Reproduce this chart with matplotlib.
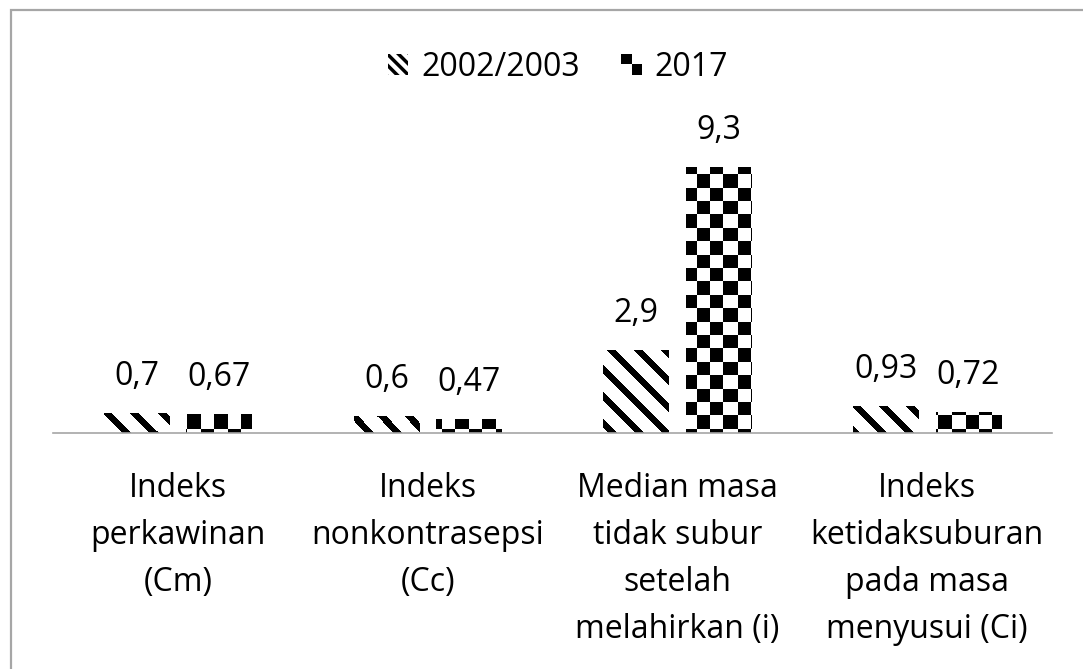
import numpy as np
import matplotlib
matplotlib.use("Agg")
import matplotlib.pyplot as plt
from matplotlib.patches import Rectangle, Patch
from matplotlib.legend_handler import HandlerBase

# --------------------------
# DATA
# --------------------------
categories = [
    "Indeks\nperkawinan\n(Cm)",
    "Indeks\nnonkontrasepsi\n(Cc)",
    "Median masa\ntidak subur\nsetelah\nmelahirkan (i)",
    "Indeks\nketidaksuburan\npada masa\nmenyusui (Ci)",
]
series_names = ["2002/2003", "2017"]
vals_2002 = [0.7, 0.6, 2.9, 0.93]
vals_2017 = [0.67, 0.47, 9.3, 0.72]

# --------------------------
# STYLE
# --------------------------
plt.rcParams['font.family'] = ['Open Sans', 'DejaVu Sans']
plt.rcParams['hatch.linewidth'] = 2.5
FS = 23
TXT = '#000000'
W, H = 1083, 669
fig = plt.figure(figsize=(W / 100, H / 100), dpi=100)

ax_left, ax_right = 53, 1052
ax_base = 432.7
px_per_unit = 28.55
ymax = 10
ax_h = ymax * px_per_unit
ax = fig.add_axes([ax_left / W, (H - ax_base) / H, (ax_right - ax_left) / W, ax_h / H])

x = np.arange(len(categories))
bw = 0.262
off = 0.165

bars1 = ax.bar(x - off, vals_2002, bw, color='white', linewidth=0)
bars2 = ax.bar(x + off, vals_2017, bw, color='white', linewidth=0)

# --------------------------
# Pattern fills (stripes / checkerboard) clipped to bars
# --------------------------
img_w = ax_right - ax_left
img_h = int(round(ax_h))
cols, rows = np.meshgrid(np.arange(img_w), np.arange(img_h))
stripes = (((cols - rows) % 27) < 9).astype(float)
sq = 13.4
checker = ((np.floor(cols / sq) + np.floor(rows / sq)) % 2 == 0).astype(float)

extent = (-0.5, 3.5, 0, ymax)
for bars, pat in [(bars1, stripes), (bars2, checker)]:
    for b in bars:
        im = ax.imshow(pat, cmap='gray_r', vmin=0, vmax=1, extent=extent,
                       origin='upper', interpolation='nearest', aspect='auto', zorder=2)
        im.set_clip_path(b)
ax.set_xlim(-0.5, 3.5)
ax.set_ylim(0, ymax)

# value labels
for bars, vals in [(bars1, vals_2002), (bars2, vals_2017)]:
    for b, v in zip(bars, vals):
        ax.annotate(str(v).replace('.', ','), xy=(b.get_x() + b.get_width() / 2, v),
                    xytext=(0, 28), textcoords='offset pixels', ha='center', va='baseline',
                    fontsize=FS, color=TXT, annotation_clip=False)

# axes styling
for s in ['left', 'right', 'top']:
    ax.spines[s].set_visible(False)
ax.spines['bottom'].set_color('#A6A6A6')
ax.spines['bottom'].set_linewidth(1.2)
ax.set_yticks([])
ax.set_xticks(x)
ax.set_xticklabels(categories, fontsize=FS, color=TXT, linespacing=1.56)
ax.tick_params(axis='x', length=0, pad=28)
ax.patch.set_alpha(0)

# --------------------------
# Legend
# --------------------------
class CheckerHandler(HandlerBase):
    def create_artists(self, legend, orig_handle, xdescent, ydescent, width, height, fontsize, trans):
        w, h = width / 2, height / 2
        out = []
        for i in range(2):
            for j in range(2):
                if (i + j) % 2 == 1:
                    out.append(Rectangle((-xdescent + i * w, -ydescent + j * h), w, h,
                                         facecolor='black', linewidth=0, transform=trans))
        return out

h1 = Patch(facecolor='white', edgecolor='black', hatch='\\\\\\', linewidth=0)
h2 = Patch(facecolor='black')
fig.legend([h1, h2], series_names, loc='center', bbox_to_anchor=(558 / W, 1 - 67 / H),
           ncol=2, frameon=False, fontsize=FS, handlelength=0.65, handleheight=0.65,
           handletextpad=0.4, columnspacing=1.3, handler_map={h2: CheckerHandler()})

# --------------------------
# Outer frame (left & top visible)
# --------------------------
fig.add_artist(Rectangle((10.5 / W, -0.2), 1.5, 1.2 - 10.5 / H, transform=fig.transFigure,
                         fill=False, edgecolor='#A6A6A6', linewidth=1.6))

fig.savefig("out.png", dpi=100)
